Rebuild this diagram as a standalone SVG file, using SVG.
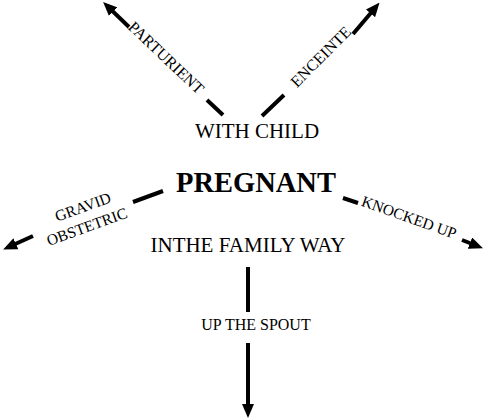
<svg xmlns="http://www.w3.org/2000/svg" width="484" height="420" viewBox="0 0 484 420">
<style>
.c{stroke:#000;stroke-width:4;fill:none}
text{font-family:'Liberation Serif','Times New Roman',serif;fill:#000;text-anchor:middle}
.m{font-size:21px}
.s{font-size:15.5px}
</style>
<defs>
<marker id="ah" markerUnits="userSpaceOnUse" markerWidth="14" markerHeight="12" refX="8" refY="6" orient="auto">
<path d="M0,0 L14,6 L0,12 z" fill="#000"/>
</marker>
</defs>
<rect width="484" height="420" fill="#fff"/>
<g id="connectors">
<line class="c" x1="223" y1="115" x2="207" y2="100"/>
<line class="c" x1="129" y1="27" x2="107.4" y2="6.1" marker-end="url(#ah)"/>
<line class="c" x1="262" y1="116" x2="284" y2="95"/>
<line class="c" x1="353" y1="34" x2="375.7" y2="7.2" marker-end="url(#ah)"/>
<line class="c" x1="163" y1="191" x2="133" y2="202"/>
<line class="c" x1="33" y1="236" x2="8.6" y2="247" marker-end="url(#ah)"/>
<line class="c" x1="343" y1="198" x2="358" y2="203"/>
<line class="c" x1="462" y1="240" x2="477.4" y2="246" marker-end="url(#ah)"/>
<line class="c" x1="248" y1="267" x2="248" y2="312"/>
<line class="c" x1="248" y1="343" x2="248" y2="412" marker-end="url(#ah)"/>
</g>
<g id="with-child"><text class="m" x="257" y="138">WITH CHILD</text></g>
<g id="pregnant"><text x="256" y="192" font-size="28.5" font-weight="bold">PREGNANT</text></g>
<g id="family-way"><text class="m" x="248" y="252">INTHE FAMILY WAY</text></g>
<g id="up-the-spout"><text x="256" y="330" font-size="16">UP THE SPOUT</text></g>
<g id="parturient"><text font-size="16" transform="translate(166,58) rotate(43.5)" x="0" y="5">PARTURIENT</text></g>
<g id="enceinte"><text font-size="16" transform="translate(321,57) rotate(-45)" x="0" y="5">ENCEINTE</text></g>
<g id="knocked-up"><text class="s" transform="translate(409,217.5) rotate(19.6)" x="0" y="5">KNOCKED UP</text></g>
<g id="gravid" transform="translate(85,217) rotate(-20)">
<text class="s" x="1.5" y="-5">GRAVID</text>
<text class="s" x="-1.5" y="15">OBSTETRIC</text>
</g>
</svg>
